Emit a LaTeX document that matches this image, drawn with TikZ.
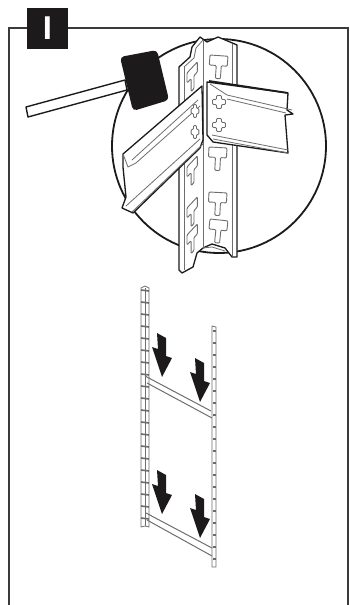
\documentclass[tikz,border=0pt]{standalone}
\usepackage{fontspec}
\setsansfont{Liberation Sans}
\definecolor{inkblack}{HTML}{1C1A1B}
\definecolor{framegray}{HTML}{3A3A3A}
\definecolor{thingray}{HTML}{6E6E6E}
\definecolor{railgray}{HTML}{6A6A6A}
\tikzset{
  outline/.style={draw=inkblack, line width=1.3pt, line join=round, fill=white},
  thinline/.style={draw=thingray, line width=0.8pt, line join=round},
  slotline/.style={draw=thingray, line width=0.9pt, line join=round, rounded corners=1pt},
  tslot/.pic={
    \draw[slotline, fill=white] (0,0) -- (18,0) -- (18,10) -- (12,10) -- (12,23) -- (7,23) -- (7,10) -- (0,10) -- cycle;
  },
  crosshole/.pic={
    \draw[slotline, fill=white] (-2.5,-6.5) -- (2.5,-6.5) -- (2.5,-2.5) -- (6.5,-2.5) -- (6.5,2.5) -- (2.5,2.5) -- (2.5,6.5) -- (-2.5,6.5) -- (-2.5,2.5) -- (-6.5,2.5) -- (-6.5,-2.5) -- (-2.5,-2.5) -- cycle;
  },
  downarrow/.pic={
    \fill[inkblack] (5,-14) -- (14,-9) -- (14,9) -- (20,11) -- (10,30) -- (0,0) -- (6,2) -- cycle;
  },
}
\begin{document}
\begin{tikzpicture}[x=1pt, y=-1pt]
\useasboundingbox (0,0) rectangle (350,605);

% Frame, open at the bottom
\draw[framegray, line width=2.4pt] (9,605) -- (9,28) -- (348,28) -- (348,605);

% Step badge
\node[fill=inkblack, text=white, minimum size=41pt, inner sep=0pt, font=\sffamily\bfseries\fontsize{33}{33}\selectfont] (badge) at (47.5,28) {I};

% Detail circle
\draw[inkblack, line width=1.8pt, fill=white] (219,146) circle [radius=107];

% Mallet
\draw[outline, line width=1.4pt] (26,107) -- (125,80) -- (127,90) -- (28,117) -- cycle;
\fill[inkblack, rounded corners=4pt] (120,57) -- (157,50) -- (169,100) -- (133,111) -- cycle;

% Upright, seen close up
\draw[outline] (200,37) -- (207,42) -- (218,37) -- (230,42) -- (237,45) -- (237,257) -- (232,257)
  -- (225,248) -- (212,244) -- (203,248) -- (197,253) -- (193,267) -- (182,273) -- (179,270)
  -- (179,67) -- (190,57) -- (192,47) -- cycle;
\draw[thinline] (203,40) -- (203,248);
\draw[thinline] (232,44) -- (232,256);
\draw[thinline] (184,67) -- (184,270);
\draw[thinline] (184,67) -- (194,58) -- (196,48) -- (203,40);
\draw[thinline] (203,248) -- (212,247) -- (225,251);

% Slots on the front face
\foreach \px/\py/\ang in {210/55/-4, 209/147/-3, 209/192/-3, 210/219/-6}
  \pic[rotate=\ang] at (\px,\py) {tslot};
% Slots on the side face
\foreach \py in {73, 167, 208, 235}
  \pic[cm={0.58,0.62,0,1,(0,0)}] at (187,\py) {tslot};

% Left beam
\draw[outline] (202,86) -- (203,140) -- (200,148) -- (133,213) -- (122,208) -- (126,197)
  -- (123,167) -- (123,154) -- cycle;
\draw[thinline] (123,154) -- (128,167) -- (136,163) -- (200,106);
\draw[thinline] (132,160) -- (198,100);
\draw[thinline] (126,206) -- (200,139);
\draw[thinline] (132,212) -- (203,144);
\pic[xscale=0.6] at (195,111) {crosshole};
\pic[xscale=0.6] at (195,132) {crosshole};

% Right beam
\draw[outline] (207,82) -- (288,93) -- (287,110) -- (293,114) -- (285,115) -- (288,153)
  -- (213,142) -- (207,135) -- cycle;
\draw[inkblack, line width=1.8pt] (209,81) -- (288,93);
\draw[thinline] (210,84) -- (227,95) -- (292,110);
\draw[thinline] (227,99) -- (286,113);
\draw[thinline] (212,135) -- (288,150);
\draw[thinline] (213,139) -- (288,153);
\pic at (219,102) {crosshole};
\pic at (219,125) {crosshole};

% Whole frame below: uprights
\draw[thinline, fill=white] (141,527) -- (141,288) -- (145,286) -- (149,288) -- (149,527) -- (145,526) -- cycle;
\draw[thinline] (145,288) -- (145,526);
\foreach \k in {0,...,19}
  \draw[railgray, line width=1.6pt] (141,{290+12*\k}) -- (149,{291+12*\k});
\draw[thinline, fill=white] (212,567) -- (212,326) -- (216,327) -- (216,567) -- cycle;
\foreach \k in {0,...,19}
  \draw[railgray, line width=1.3pt] (213,{331+12*\k}) -- (216,{331+12*\k});

% Whole frame below: beams
\draw[thinline, line width=1pt] (145,376) -- (211,411);
\draw[thinline, line width=1pt] (147,383) -- (212,418);
\draw[thinline, line width=1pt] (146,513) -- (212,548);
\draw[thinline, line width=1pt] (147,520) -- (212,556);

% Arrows
\foreach \px/\py in {152/347, 190/372, 152/484, 190/508}
  \pic at (\px,\py) {downarrow};

\end{tikzpicture}
\end{document}
